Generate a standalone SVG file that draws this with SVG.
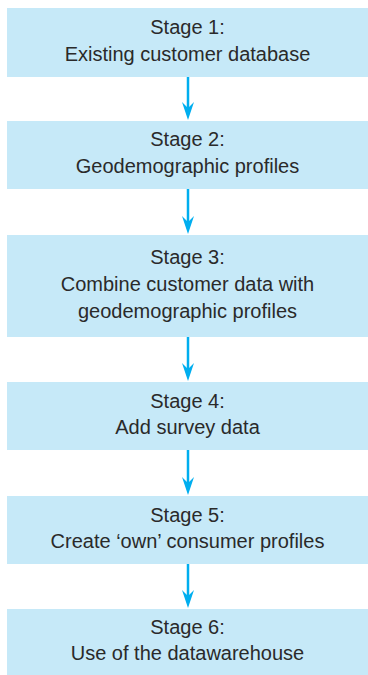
<svg xmlns="http://www.w3.org/2000/svg" width="368" height="675" viewBox="0 0 368 675">
<style>
.box{fill:#c6e9f8;}
.t{font-family:"Liberation Sans",Arial,sans-serif;font-size:20px;fill:#2a2a2a;text-anchor:middle;}
.c{stroke:#00aeef;stroke-width:2.5;fill:none;}
</style>
<defs>
<marker id="ah" markerUnits="userSpaceOnUse" markerWidth="20" markerHeight="14" viewBox="0 0 20 14" refX="11" refY="7" orient="auto">
<path d="M1,1 L19,7 L1,13 L7,7 Z" fill="#00aeef"/>
</marker>
</defs>
<rect width="368" height="675" fill="#ffffff"/>
<g id="connectors">
<line class="c" x1="188" y1="77" x2="188" y2="112" marker-end="url(#ah)"/>
<line class="c" x1="188" y1="189" x2="188" y2="226" marker-end="url(#ah)"/>
<line class="c" x1="188" y1="337" x2="188" y2="373" marker-end="url(#ah)"/>
<line class="c" x1="188" y1="450" x2="188" y2="487" marker-end="url(#ah)"/>
<line class="c" x1="188" y1="564" x2="188" y2="600" marker-end="url(#ah)"/>
</g>
<g id="stage1">
<rect class="box" x="7" y="8" width="361" height="69"/>
<text class="t" x="187.5" y="34">Stage 1:</text>
<text class="t" x="187.5" y="61">Existing customer database</text>
</g>
<g id="stage2">
<rect class="box" x="7" y="121" width="361" height="68"/>
<text class="t" x="187.5" y="146">Stage 2:</text>
<text class="t" x="187.5" y="173">Geodemographic profiles</text>
</g>
<g id="stage3">
<rect class="box" x="7" y="235" width="361" height="102"/>
<text class="t" x="187.5" y="264">Stage 3:</text>
<text class="t" x="187.5" y="291">Combine customer data with</text>
<text class="t" x="187.5" y="318">geodemographic profiles</text>
</g>
<g id="stage4">
<rect class="box" x="7" y="382" width="361" height="68"/>
<text class="t" x="187.5" y="408">Stage 4:</text>
<text class="t" x="187.5" y="434">Add survey data</text>
</g>
<g id="stage5">
<rect class="box" x="7" y="496" width="361" height="68"/>
<text class="t" x="187.5" y="522">Stage 5:</text>
<text class="t" x="187.5" y="548">Create ‘own’ consumer profiles</text>
</g>
<g id="stage6">
<rect class="box" x="7" y="609" width="361" height="66"/>
<text class="t" x="187.5" y="634">Stage 6:</text>
<text class="t" x="187.5" y="660">Use of the datawarehouse</text>
</g>
</svg>
